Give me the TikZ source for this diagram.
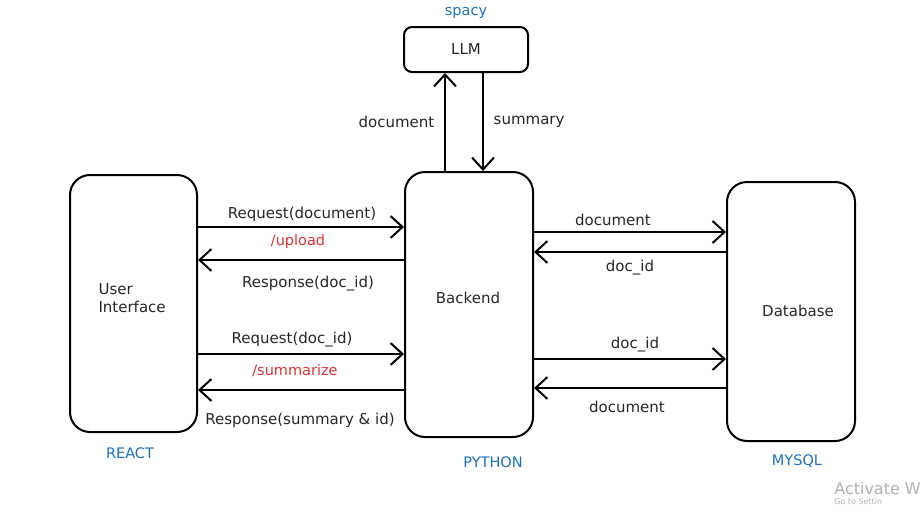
\documentclass[tikz,border=0pt]{standalone}
\usepackage{fontspec}
\setmainfont{DejaVu Sans}
\usepackage{tikz}
\usetikzlibrary{arrows.meta}
\usetikzlibrary{positioning}

\definecolor{techblue}{RGB}{25,113,194}
\definecolor{routered}{RGB}{224,49,49}

\tikzset{
	block/.style={draw, line width=2pt, rounded corners=20pt, inner sep=0pt},
	flow/.style={line width=2.8pt, -{Straight Barb[length=12pt,width=22pt,line width=2pt]}},
	lbl/.style={font=\fontsize{15}{18}\selectfont, text=black!85},
	tech/.style={font=\fontsize{14.5}{18}\selectfont, text=techblue},
	route/.style={font=\fontsize{14.5}{18}\selectfont, text=routered}
}

\begin{document}
\begin{tikzpicture}[x=1pt, y=-1pt]
				\useasboundingbox (0,0) rectangle (923,514);
				
				% Nodes
				\node[block, minimum width=127pt, minimum height=257pt] (ui) at (133.5,303.5) {};
				\node[lbl, align=left, anchor=west] at (95,298) {User\\Interface};
				\node[tech] (react) at (130,453) {REACT};
				
				\node[block, minimum width=128pt, minimum height=265pt] (be) at (469,304.5) {};
				\node[lbl] at (468,298) {Backend};
				\node[tech] (python) at (493,462) {PYTHON};
				
				\node[block, minimum width=128pt, minimum height=259pt] (db) at (791,311.5) {};
				\node[lbl] at (798,311) {Database};
				\node[tech] (mysql) at (797,461) {MYSQL};
				
				\node[block, rounded corners=8pt, minimum width=124pt, minimum height=45pt] (llm) at (466,49.5) {};
				\node[lbl] at (466,49) {LLM};
				\node[tech] (spacy) at (466,13) {spacy};
				
				% Backend <-> LLM
				\draw[flow] (be.north -| 445,0) -- (llm.south -| 445,0) node[lbl, midway, left=6pt] {document};
				\draw[flow] (llm.south -| 483,0) -- (be.north -| 483,0) node[lbl, midway, right=6pt] {summary};
				
				% UI <-> Backend
				\draw[flow] (ui.east |- 0,227) -- (be.west |- 0,227);
				\node[lbl] at (302,214) {Request(document)};
				\node[route] at (298,241) {/upload};
				\draw[flow] (be.west |- 0,260) -- (ui.east |- 0,260);
				\node[lbl] at (308,284) {Response(doc\_id)};
				
				\draw[flow] (ui.east |- 0,354) -- (be.west |- 0,354);
				\node[lbl] at (292,340) {Request(doc\_id)};
				\node[route] at (295,371) {/summarize};
				\draw[flow] (be.west |- 0,390) -- (ui.east |- 0,390);
				\node[lbl] at (300,420) {Response(summary \& id)};
				
				% Backend <-> Database
				\draw[flow] (be.east |- 0,232) -- (db.west |- 0,232);
				\node[lbl] at (613,220) {document};
				\draw[flow] (db.west |- 0,252) -- (be.east |- 0,252);
				\node[lbl] at (630,268) {doc\_id};
				
				\draw[flow] (be.east |- 0,359) -- (db.west |- 0,359);
				\node[lbl] at (635,345) {doc\_id};
				\draw[flow] (db.west |- 0,388) -- (be.east |- 0,388);
				\node[lbl] at (627,407) {document};
				
				% Watermark
				\node[anchor=east, text=black!30, font=\fontsize{16}{19}\selectfont, inner sep=0pt] (act) at (921,489) {Activate W};
				\node[anchor=north west, text=black!30, font=\fontsize{8}{10}\selectfont, inner sep=0pt, yshift=-3pt] at (act.south west) {Go to Settin};
			\end{tikzpicture}
\end{document}
